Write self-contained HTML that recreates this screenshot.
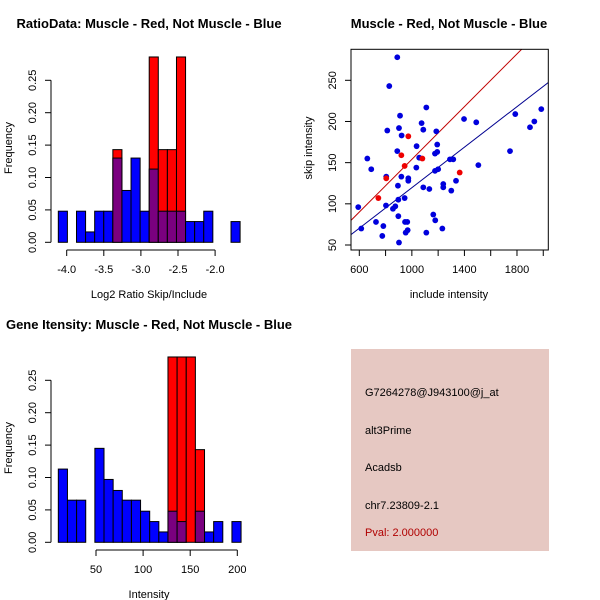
<!DOCTYPE html>
<html><head><meta charset="utf-8"><style>
body{margin:0;background:#fff}
svg{display:block;font-family:"Liberation Sans",Arial,sans-serif}
</style></head><body>
<svg id="s" width="600" height="600" viewBox="0 0 600 600">
<rect width="600" height="600" fill="#fff"/>
<text x="149" y="28" font-size="13" font-weight="bold" text-anchor="middle">RatioData: Muscle - Red, Not Muscle - Blue</text>
<text x="449" y="28" font-size="13" font-weight="bold" text-anchor="middle">Muscle - Red, Not Muscle - Blue</text>
<text x="149" y="329" font-size="13" font-weight="bold" text-anchor="middle">Gene Itensity: Muscle - Red, Not Muscle - Blue</text>
<text x="149" y="298" font-size="11" text-anchor="middle">Log2 Ratio Skip/Include</text>
<text x="149" y="598" font-size="11" text-anchor="middle">Intensity</text>
<text x="449" y="298" font-size="11" text-anchor="middle">include intensity</text>
<text transform="translate(12,148) rotate(-90)" font-size="11" text-anchor="middle">Frequency</text>
<text transform="translate(12,448) rotate(-90)" font-size="11" text-anchor="middle">Frequency</text>
<text transform="translate(312,148) rotate(-90)" font-size="11" text-anchor="middle">skip intensity</text>
<g>
<rect x="351" y="349" width="198" height="202" fill="#e6c8c2"/>
<text x="365" y="396" font-size="11">G7264278@J943100@j_at</text>
<text x="365" y="434" font-size="11">alt3Prime</text>
<text x="365" y="471" font-size="11">Acadsb</text>
<text x="365" y="509" font-size="11">chr7.23809-2.1</text>
<text x="365" y="536" font-size="11" fill="#b00000">Pval: 2.000000</text>
</g>
</svg>
<script>
// Ratio histogram data
const ratioStart = -4.113, ratioBinW = 0.1225;
const ratioBlue = [0.048,0,0.048,0.016,0.048,0.048,0.13,0.08,0.13,0.048,0.113,0.048,0.048,0.048,0.032,0.032,0.048,0,0,0.032];
const ratioRed  = [0,0,0,0,0,0,0.143,0,0,0,0.286,0.143,0.143,0.286,0,0,0,0,0,0];
const ratioXTicks = [-4.0,-3.5,-3.0,-2.5,-2.0];
const freqTicks = [0,0.05,0.10,0.15,0.20,0.25];
const freqLabels = ["0.00","0.05","0.10","0.15","0.20","0.25"];
// Intensity histogram data
const intStart = 10, intBinW = 9.7;
const intBlue = [0.113,0.065,0.065,0,0.145,0.097,0.08,0.065,0.065,0.048,0.032,0.016,0.048,0.032,0,0.048,0.016,0.032,0,0.032];
const intRed  = [0,0,0,0,0,0,0,0,0,0,0,0,0.286,0.286,0.286,0.143,0,0,0,0];
const intXTicks = [50,100,150,200];
// Scatter data
const blueX = [889,828,592,615,691,661,727,775,783,813,805,803,856,874,889,894,897,897,902,902,910,922,920,945,948,953,968,965,973,973,1034,1036,1056,1074,1087,1087,1110,1110,1133,1163,1176,1178,1186,1176,1193,1193,1200,1239,1239,1232,1290,1315,1300,1336,1397,1490,1506,1747,1787,1899,1932,1985];
const blueY = [278,243,96,70,142,155,78,61,73,189,133,98,94,97,164,122,105,85,53,192,207,183,133,107,78,65,68,78,131,128,144,170,156,198,190,120,217,65,118,87,161,80,188,140,172,163,142,124,120,70,154,154,116,128,203,199,147,164,209,193,200,215];
const redX = [745,805,920,945,973,1080,1364];
const redY = [107,131,159,146,182,155,138];
const redFit = [0.16,-6];
const blueFit = [0.123,-3.4];
const scXTicks = [600,800,1000,1200,1400,1600,1800,2000];
const scXLabels = [600,1000,1400,1800];
const scYTicks = [50,100,150,200,250];

const S = document.getElementById('s');
const NS = 'http://www.w3.org/2000/svg';
function mk(tag, at, parent){const e=document.createElementNS(NS,tag);for(const k in at)e.setAttribute(k,at[k]);(parent||S).appendChild(e);return e;}

function histogram(name, oy, start, bw, blue, red, xTicks, xmap, xTickLabelsFmt){
  const g = mk('g',{});
  
  
  const y0 = oy+242.3, ppu = 648;
  const ym = v => y0 - v*ppu;
  for(let i=0;i<blue.length;i++){
    const x1 = xmap(start+i*bw), x2 = xmap(start+(i+1)*bw);
    const b = blue[i], r = red[i];
    if(r>0){
      const e = mk('rect',{x:x1,y:ym(r),width:x2-x1,height:y0-ym(r),fill:'#ff0000',stroke:'#000','stroke-width':1},g);
      
      
    }
    if(b>0){
      const col = r>0 ? '#7a007f' : '#0000ff';
      const h = r>0 ? Math.min(b,r) : b;
      const e = mk('rect',{x:x1,y:ym(h),width:x2-x1,height:y0-ym(h),fill:col,stroke:'#000','stroke-width':1},g);
      
      
    }
  }
  const ya = mk('g',{},g);
  
  
  mk('line',{x1:51,y1:ym(0),x2:51,y2:ym(0.25),stroke:'#000'},ya);
  freqTicks.forEach((v,i)=>{
    mk('line',{x1:45,y1:ym(v),x2:51,y2:ym(v),stroke:'#000'},ya);
    const t = mk('text',{transform:`translate(36,${ym(v)}) rotate(-90)`,'font-size':11,'text-anchor':'middle'},ya);
    t.textContent = freqLabels[i];
    
    
  });
  const xa = mk('g',{},g);
  
  
  const ay = oy+250;
  mk('line',{x1:xmap(xTicks[0]),y1:ay,x2:xmap(xTicks[xTicks.length-1]),y2:ay,stroke:'#000'},xa);
  xTicks.forEach(v=>{
    mk('line',{x1:xmap(v),y1:ay,x2:xmap(v),y2:ay+6,stroke:'#000'},xa);
    const t = mk('text',{x:xmap(v),y:ay+23,'font-size':11,'text-anchor':'middle'},xa);
    t.textContent = xTickLabelsFmt(v);
    
    
  });
}
histogram('ratio-histogram',0,ratioStart,ratioBinW,ratioBlue,ratioRed,ratioXTicks,v=>66.7+(v+4)*74.2,v=>v.toFixed(1));
histogram('intensity-histogram',300,intStart,intBinW,intBlue,intRed,intXTicks,v=>96+(v-50)*0.942,v=>String(v));

const sg = mk('g',{});


const sx = v => 359.3 + (v-600)*0.1314;
const sy = v => 245 - (v-50)*0.8235;
const L=351,R=548.3,T=49.3,B=250;
const cp = mk('clipPath',{id:'cp'},sg);
mk('rect',{x:L,y:T,width:R-L,height:B-T},cp);
const xLo = 600+(L-359.3)/0.1314, xHi = 600+(R-359.3)/0.1314;
[[redFit,'#c00000','red-fit-line'],[blueFit,'#000090','blue-fit-line']].forEach(([f,c,n])=>{
  const l = mk('line',{x1:sx(xLo),y1:sy(f[0]*xLo+f[1]),x2:sx(xHi),y2:sy(f[0]*xHi+f[1]),stroke:c,'stroke-width':1,'clip-path':'url(#cp)'},sg);
  
  
});
blueX.forEach((x,i)=>{
  const c = mk('circle',{cx:sx(x),cy:sy(blueY[i]),r:2.9,fill:'#0000dd'},sg);
  
  
});
redX.forEach((x,i)=>{
  const c = mk('circle',{cx:sx(x),cy:sy(redY[i]),r:2.9,fill:'#ee0000'},sg);
  
  
});
const fr = mk('rect',{x:L,y:T,width:R-L,height:B-T,fill:'none',stroke:'#000'},sg);


scXTicks.forEach(v=>{
  mk('line',{x1:sx(v),y1:B,x2:sx(v),y2:B+6,stroke:'#000'},sg);
  if(scXLabels.includes(v)){
    const t = mk('text',{x:sx(v),y:B+23,'font-size':11,'text-anchor':'middle'},sg);
    t.textContent = v;
    
    
  }
});
scYTicks.forEach(v=>{
  mk('line',{x1:L-6,y1:sy(v),x2:L,y2:sy(v),stroke:'#000'},sg);
  const t = mk('text',{transform:`translate(336,${sy(v)}) rotate(-90)`,'font-size':11,'text-anchor':'middle'},sg);
  t.textContent = v;
  
  
});
</script>
</body></html>
